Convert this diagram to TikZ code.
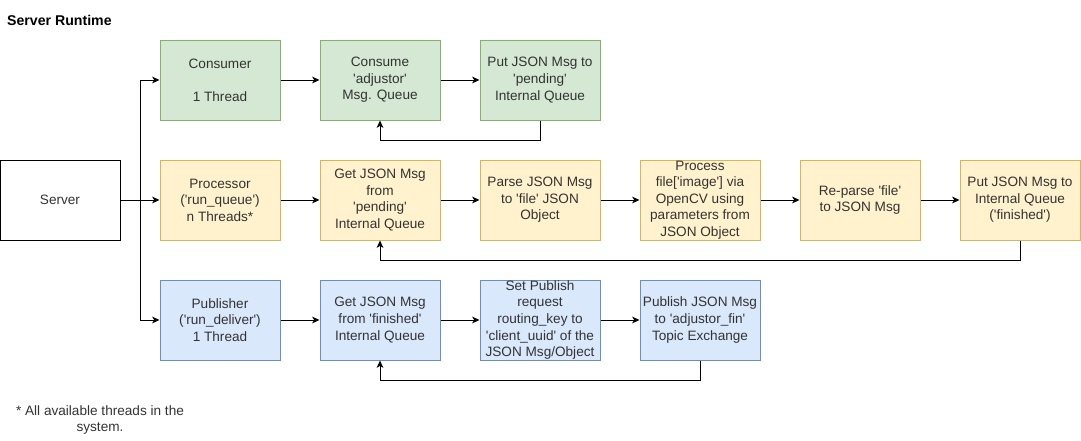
\documentclass[tikz,border=0pt]{standalone}
\usepackage{fontspec}
\setmainfont{Liberation Sans}[Ligatures=TeXOff]
\usepackage{xcolor}
\definecolor{rtgreen}{HTML}{D5E8D4}
\definecolor{rtgreenline}{HTML}{82B366}
\definecolor{rtyellow}{HTML}{FFF2CC}
\definecolor{rtyellowline}{HTML}{D6B656}
\definecolor{rtblue}{HTML}{DAE8FC}
\definecolor{rtblueline}{HTML}{6C8EBF}
\definecolor{rttext}{HTML}{333333}
\usetikzlibrary{arrows.meta, positioning}

\tikzset{
  stagebox/.style={draw, line width=0.75pt, minimum width=90pt, minimum height=60pt,
    inner sep=0pt, align=center, text=rttext, font=\fontsize{10.2}{12.4}\selectfont},
  consbox/.style={stagebox, fill=rtgreen, draw=rtgreenline},
  procbox/.style={stagebox, fill=rtyellow, draw=rtyellowline},
  pubbox/.style={stagebox, fill=rtblue, draw=rtblueline},
  flow/.style={line width=0.75pt, -{Stealth[length=5.5pt, width=5pt, inset=1.5pt]}}
}

\begin{document}
\begin{tikzpicture}[x=0.75pt, y=-0.75pt]
  \useasboundingbox (0,0) rectangle (1081,440);

  % Title
  \node[anchor=west, font=\fontsize{10.6}{12}\selectfont\bfseries] (title) at (2.5,20) {Server Runtime};

  % Server
  \node[stagebox, draw=black, fill=white] (server) at (60,200) {Server};
  \coordinate (split) at (140,200);

  % Consumer row
  \node[consbox] (cons)    at (220,80) {Consumer\\[12.4pt]1 Thread};
  \node[consbox] (consq)   at (380,80) {Consume\\'adjustor'\\Msg. Queue};
  \node[consbox] (putpend) at (540,80) {Put JSON Msg to\\'pending'\\Internal Queue};

  % Processor row
  \node[procbox] (proc)    at (220,200) {Processor\\('run\_queue')\\n Threads*};
  \node[procbox] (getpend) at (380,200) {Get JSON Msg\\from\\'pending'\\Internal Queue};
  \node[procbox] (parse)   at (540,200) {Parse JSON Msg\\to 'file' JSON\\Object};
  \node[procbox] (image)   at (700,200) {Process\\file['image'] via\\OpenCV using\\parameters from\\JSON Object};
  \node[procbox] (reparse) at (860,200) {Re-parse 'file'\\to JSON Msg};
  \node[procbox] (putfin)  at (1020,200) {Put JSON Msg to\\Internal Queue\\('finished')};

  % Publisher row
  \node[pubbox] (pub)     at (220,320) {Publisher\\('run\_deliver')\\1 Thread};
  \node[pubbox] (getfin)  at (380,320) {Get JSON Msg\\from 'finished'\\Internal Queue};
  \node[pubbox] (setkey)  at (540,320) {Set Publish\\request\\routing\_key to\\'client\_uuid' of the\\JSON Msg/Object};
  \node[pubbox] (publish) at (700,320) {Publish JSON Msg\\to 'adjustor\_fin'\\Topic Exchange};

  % Footnote
  \node[align=center, text=rttext, font=\fontsize{10.2}{12.4}\selectfont] (note) at (100,420)
    {* All available threads in the\\system.};

  % Server to threads
  \draw[line width=0.75pt] (server.east) -- (split);
  \draw[flow] (split) |- (cons.west);
  \draw[flow] (split) -- (proc.west);
  \draw[flow] (split) |- (pub.west);

  % Consumer
  \draw[flow] (cons) -- (consq);
  \draw[flow] (consq) -- (putpend);
  \draw[flow] (putpend.south) -- ++(0,20) -| (consq.south);

  % Processor
  \draw[flow] (proc) -- (getpend);
  \draw[flow] (getpend) -- (parse);
  \draw[flow] (parse) -- (image);
  \draw[flow] (image) -- (reparse);
  \draw[flow] (reparse) -- (putfin);
  \draw[flow] (putfin.south) -- ++(0,20) -| (getpend.south);

  % Publisher
  \draw[flow] (pub) -- (getfin);
  \draw[flow] (getfin) -- (setkey);
  \draw[flow] (setkey) -- (publish);
  \draw[flow] (publish.south) -- ++(0,20) -| (getfin.south);
\end{tikzpicture}
\end{document}
